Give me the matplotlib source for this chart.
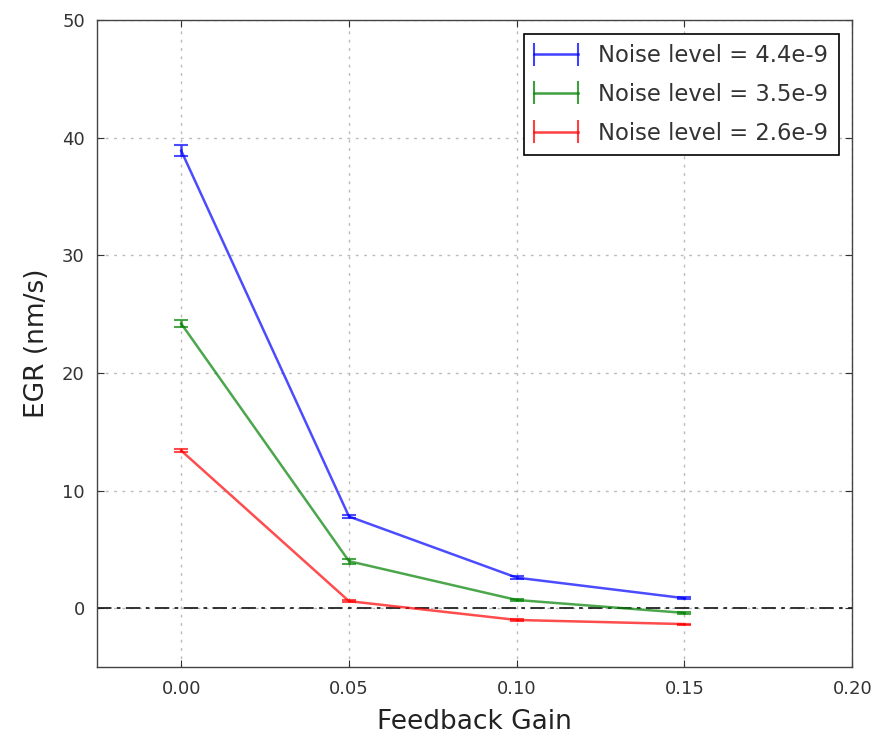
import matplotlib
matplotlib.use("Agg")
import matplotlib.pyplot as plt
from matplotlib.legend_handler import HandlerBase
from matplotlib.lines import Line2D

gain = [0.00, 0.05, 0.10, 0.15]
labels = ["Noise level = 4.4e-9", "Noise level = 3.5e-9", "Noise level = 2.6e-9"]
egr_44 = [38.9, 7.8, 2.6, 0.85]
egr_35 = [24.2, 4.0, 0.7, -0.4]
egr_26 = [13.4, 0.6, -1.0, -1.35]
err_44 = [0.45, 0.15, 0.1, 0.1]
err_35 = [0.3, 0.2, 0.1, 0.1]
err_26 = [0.15, 0.1, 0.05, 0.05]
colors = ["#0000ff", "#008000", "#ff0000"]
xticks = [0.00, 0.05, 0.10, 0.15, 0.20]
yticks = [0, 10, 20, 30, 40, 50]


class HBarHandler(HandlerBase):
    def create_artists(self, legend, orig, xdescent, ydescent, width, height, fontsize, trans):
        c = orig.get_color()
        al = orig.get_alpha()
        yc = height / 2 - ydescent
        x0, x1 = -xdescent, width - xdescent
        h = height * 0.66
        arts = [Line2D([x0, x1], [yc, yc], color=c, lw=1.8, alpha=al),
                Line2D([x0, x0], [yc - h, yc + h], color=c, lw=1.5, alpha=al),
                Line2D([x1, x1], [yc - h, yc + h], color=c, lw=1.5, alpha=al)]
        for a in arts:
            a.set_transform(trans)
        return arts


fig = plt.figure(figsize=(8.85, 7.35), dpi=100)
ax = fig.add_axes([0.110, 0.0925, 0.853, 0.880])

proxies = []
for y, e, c, lab in zip([egr_44, egr_35, egr_26], [err_44, err_35, err_26], colors, labels):
    ax.errorbar(gain, y, yerr=e, color=c, alpha=0.7, lw=1.8, capsize=5, capthick=1.5)
    proxies.append(Line2D([], [], color=c, alpha=0.75, label=lab))

ax.axhline(0, color="#222222", ls="-.", lw=1.3, dashes=(8, 3, 2, 3))
ax.set_xlim(-0.025, 0.2)
ax.set_ylim(-5, 50)
ax.set_xticks(xticks)
ax.set_xticklabels([f"{v:.2f}" for v in xticks])
ax.set_yticks(yticks)
ax.grid(True, color="#bbbbbb", ls=(0, (2, 4)), lw=1)
ax.tick_params(direction="in", length=5, labelsize=13, colors="#333333", top=True, right=True, pad=9)
for s in ax.spines.values():
    s.set_color("#444444")
    s.set_linewidth(1)
ax.set_xlabel("Feedback Gain", fontsize=19, color="#222222", labelpad=8)
ax.set_ylabel("EGR (nm/s)", fontsize=19, color="#222222", labelpad=9)
leg = ax.legend(handles=proxies, handler_map={Line2D: HBarHandler()}, loc="upper right",
                fontsize=16.3, fancybox=False, framealpha=1, edgecolor="black",
                handlelength=1.95, handletextpad=0.9, borderpad=0.45, labelspacing=0.7,
                borderaxespad=0.6)
leg.get_frame().set_linewidth(1.2)
for t in leg.get_texts():
    t.set_color("#333333")

fig.savefig("out.png", dpi=100)
